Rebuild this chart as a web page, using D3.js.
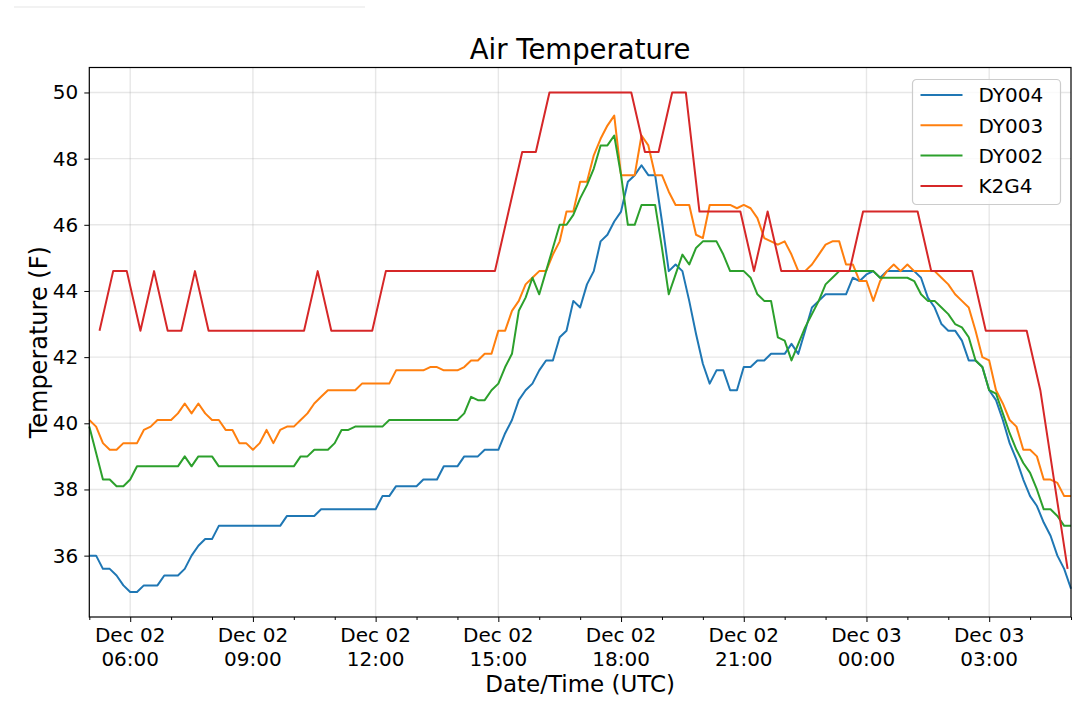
<!DOCTYPE html>
<html>
<head>
<meta charset="utf-8">
<script src="https://cdn.jsdelivr.net/npm/d3@7"></script>
<style>
  body { margin: 0; background: #fff; }
  svg { display: block; font-family: "DejaVu Sans", sans-serif; }
</style>
</head>
<body>
<div class="chart"></div>
<script>
// 10-minute station readings, starting Dec 02 05:00 UTC
var dy004 = [
  36.0, 36.0, 35.6, 35.6, 35.4, 35.1, 34.9, 34.9, 35.1, 35.1,
  35.1, 35.4, 35.4, 35.4, 35.6, 36.0, 36.3, 36.5, 36.5, 36.9,
  36.9, 36.9, 36.9, 36.9, 36.9, 36.9, 36.9, 36.9, 36.9, 37.2,
  37.2, 37.2, 37.2, 37.2, 37.4, 37.4, 37.4, 37.4, 37.4, 37.4,
  37.4, 37.4, 37.4, 37.8, 37.8, 38.1, 38.1, 38.1, 38.1, 38.3,
  38.3, 38.3, 38.7, 38.7, 38.7, 39.0, 39.0, 39.0, 39.2, 39.2,
  39.2, 39.7, 40.1, 40.7, 41.0, 41.2, 41.6, 41.9, 41.9, 42.6,
  42.8, 43.7, 43.5, 44.2, 44.6, 45.5, 45.7, 46.1, 46.4, 47.3,
  47.5, 47.8, 47.5, 47.5, 46.1, 44.6, 44.8, 44.6, 43.7, 42.7,
  41.8, 41.2, 41.6, 41.6, 41.0, 41.0, 41.7, 41.7, 41.9, 41.9,
  42.1, 42.1, 42.1, 42.4, 42.1, 42.8, 43.5, 43.7, 43.9, 43.9,
  43.9, 43.9, 44.4, 44.3, 44.5, 44.6, 44.4, 44.6, 44.6, 44.6,
  44.6, 44.6, 44.4, 43.8, 43.5, 43.0, 42.8, 42.8, 42.5, 41.9,
  41.9, 41.7, 41.0, 40.7, 40.1, 39.4, 38.9, 38.3, 37.8, 37.5,
  37.0, 36.6, 36.0, 35.6, 35.0
];
var dy003 = [
  40.1, 39.9, 39.4, 39.2, 39.2, 39.4, 39.4, 39.4, 39.8, 39.9,
  40.1, 40.1, 40.1, 40.3, 40.6, 40.3, 40.6, 40.3, 40.1, 40.1,
  39.8, 39.8, 39.4, 39.4, 39.2, 39.4, 39.8, 39.4, 39.8, 39.9,
  39.9, 40.1, 40.3, 40.6, 40.8, 41.0, 41.0, 41.0, 41.0, 41.0,
  41.2, 41.2, 41.2, 41.2, 41.2, 41.6, 41.6, 41.6, 41.6, 41.6,
  41.7, 41.7, 41.6, 41.6, 41.6, 41.7, 41.9, 41.9, 42.1, 42.1,
  42.8, 42.8, 43.4, 43.7, 44.2, 44.4, 44.6, 44.6, 45.1, 45.5,
  46.4, 46.4, 47.3, 47.3, 48.1, 48.6, 49.0, 49.3, 47.5, 47.5,
  47.5, 48.7, 48.4, 47.5, 47.5, 47.0, 46.6, 46.6, 46.6, 45.7,
  45.6, 46.6, 46.6, 46.6, 46.6, 46.5, 46.6, 46.5, 46.2, 45.6,
  45.5, 45.4, 45.5, 45.1, 44.6, 44.6, 44.8, 45.1, 45.4, 45.5,
  45.5, 44.8, 44.8, 44.3, 44.3, 43.7, 44.3, 44.6, 44.8, 44.6,
  44.8, 44.6, 44.6, 44.6, 44.6, 44.4, 44.2, 43.9, 43.7, 43.5,
  42.8, 42.0, 41.9, 41.0, 40.6, 40.1, 39.9, 39.2, 39.2, 39.0,
  38.3, 38.3, 38.2, 37.8, 37.8
];
var dy002 = [
  39.9, 39.1, 38.3, 38.3, 38.1, 38.1, 38.3, 38.7, 38.7, 38.7,
  38.7, 38.7, 38.7, 38.7, 39.0, 38.7, 39.0, 39.0, 39.0, 38.7,
  38.7, 38.7, 38.7, 38.7, 38.7, 38.7, 38.7, 38.7, 38.7, 38.7,
  38.7, 39.0, 39.0, 39.2, 39.2, 39.2, 39.4, 39.8, 39.8, 39.9,
  39.9, 39.9, 39.9, 39.9, 40.1, 40.1, 40.1, 40.1, 40.1, 40.1,
  40.1, 40.1, 40.1, 40.1, 40.1, 40.3, 40.8, 40.7, 40.7, 41.0,
  41.2, 41.7, 42.1, 43.4, 43.8, 44.4, 43.9, 44.6, 45.3, 46.0,
  46.0, 46.3, 46.8, 47.2, 47.7, 48.4, 48.4, 48.7, 47.5, 46.0,
  46.0, 46.6, 46.6, 46.6, 45.3, 43.9, 44.5, 45.1, 44.8, 45.3,
  45.5, 45.5, 45.5, 45.1, 44.6, 44.6, 44.6, 44.4, 43.9, 43.7,
  43.7, 42.6, 42.5, 41.9, 42.4, 42.9, 43.3, 43.7, 44.2, 44.4,
  44.6, 44.6, 44.6, 44.6, 44.6, 44.6, 44.4, 44.4, 44.4, 44.4,
  44.4, 44.3, 43.9, 43.7, 43.7, 43.5, 43.3, 43.0, 42.9, 42.6,
  41.9, 41.7, 41.0, 40.9, 40.3, 39.7, 39.2, 38.8, 38.5, 38.0,
  37.4, 37.4, 37.2, 36.9, 36.9
];
// 20-minute airport readings, starting Dec 02 05:15 UTC
var k2g4 = [
  42.8, 44.6, 44.6, 42.8, 44.6, 42.8, 42.8, 44.6, 42.8, 42.8,
  42.8, 42.8, 42.8, 42.8, 42.8, 42.8, 44.6, 42.8, 42.8, 42.8,
  42.8, 44.6, 44.6, 44.6, 44.6, 44.6, 44.6, 44.6, 44.6, 44.6,
  46.4, 48.2, 48.2, 50.0, 50.0, 50.0, 50.0, 50.0, 50.0, 50.0,
  48.2, 48.2, 50.0, 50.0, 46.4, 46.4, 46.4, 46.4, 44.6, 46.4,
  44.6, 44.6, 44.6, 44.6, 44.6, 44.6, 46.4, 46.4, 46.4, 46.4,
  46.4, 44.6, 44.6, 44.6, 44.6, 42.8, 42.8, 42.8, 42.8, 41.0,
  38.3, 35.6
];

var names = ['DY004', 'DY003', 'DY002', 'K2G4'];
var colors = ['#1f77b4', '#ff7f0e', '#2ca02c', '#d62728'];
var yTicks = [36, 38, 40, 42, 44, 46, 48, 50];

var dyStart = Date.UTC(2018, 11, 2, 5, 0);
var k2Start = Date.UTC(2018, 11, 2, 5, 15);
var xStart = new Date(Date.UTC(2018, 11, 2, 5, 0));
var xEnd = new Date(Date.UTC(2018, 11, 3, 5, 0));

function stamp(values, start, stepMin) {
  return values.map(function(v, i) {
    return { t: new Date(start + i * stepMin * 60000), v: v };
  });
}

var series = [
  stamp(dy004, dyStart, 10),
  stamp(dy003, dyStart, 10),
  stamp(dy002, dyStart, 10),
  stamp(k2g4, k2Start, 20)
];

var W = 1080, H = 709;
var margin = { top: 67.5, right: 9, bottom: 92, left: 89.3 };
var width = W - margin.left - margin.right;
var height = H - margin.top - margin.bottom;

var all = d3.merge(series);
var lo = d3.min(all, function(d) { return d.v; });
var hi = d3.max(all, function(d) { return d.v; });
var pad = (hi - lo) * 0.05;

var x = d3.scaleUtc().domain([xStart, xEnd]).range([0, width]);
var y = d3.scaleLinear().domain([lo - pad, hi + pad]).range([height, 0]);

var svg = d3.select('.chart').append('svg')
    .attr('width', W)
    .attr('height', H);

svg.append('line')
    .attr('x1', 14).attr('x2', 365).attr('y1', 7).attr('y2', 7)
    .attr('stroke', '#eeeeee').attr('stroke-width', 1.5);

var g = svg.append('g')
    .attr('transform', 'translate(' + margin.left + ',' + margin.top + ')');

var major = x.ticks(d3.utcHour.every(3));
var minor = x.ticks(d3.utcHour.every(1)).filter(function(d) { return d.getUTCHours() % 3 !== 0; });

// grid
g.append('g').selectAll('line')
    .data(major)
    .enter().append('line')
    .attr('x1', function(d) { return x(d); })
    .attr('x2', function(d) { return x(d); })
    .attr('y1', 0).attr('y2', height)
    .attr('stroke', '#b0b0b0').attr('stroke-opacity', 0.3).attr('stroke-width', 1.4);

g.append('g').selectAll('line')
    .data(yTicks)
    .enter().append('line')
    .attr('x1', 0).attr('x2', width)
    .attr('y1', function(d) { return y(d); })
    .attr('y2', function(d) { return y(d); })
    .attr('stroke', '#b0b0b0').attr('stroke-opacity', 0.3).attr('stroke-width', 1.4);

// series
var line = d3.line()
    .x(function(d) { return x(d.t); })
    .y(function(d) { return y(d.v); });

g.append('g').selectAll('path')
    .data(series)
    .enter().append('path')
    .attr('d', line)
    .attr('fill', 'none')
    .attr('stroke', function(d, i) { return colors[i]; })
    .attr('stroke-width', 2)
    .attr('stroke-linejoin', 'round');

// axes
var yAxis = d3.axisLeft(y).tickValues(yTicks).tickSize(5).tickPadding(6).tickFormat(d3.format('d'));
var xAxis = d3.axisBottom(x).tickValues(major).tickSize(5).tickPadding(6).tickFormat('');
var xMinor = d3.axisBottom(x).tickValues(minor).tickSize(3).tickFormat('');

var ya = g.append('g').call(yAxis);
ya.select('.domain').remove();
ya.selectAll('text').attr('font-size', 20).attr('fill', '#000').attr('font-family', 'DejaVu Sans');
ya.selectAll('line').attr('stroke', '#000');

var xa = g.append('g').attr('transform', 'translate(0,' + height + ')').call(xAxis);
xa.select('.domain').remove();
xa.selectAll('line').attr('stroke', '#000');

var xm = g.append('g').attr('transform', 'translate(0,' + height + ')').call(xMinor);
xm.select('.domain').remove();
xm.selectAll('line').attr('stroke', '#000');

var fmtDay = d3.utcFormat('%b %d');
var fmtTime = d3.utcFormat('%H:%M');
var lab = g.append('g').selectAll('text')
    .data(major)
    .enter().append('text')
    .attr('text-anchor', 'middle')
    .attr('font-size', 20)
    .attr('fill', '#000');
lab.append('tspan')
    .attr('x', function(d) { return x(d); })
    .attr('y', height + 25)
    .text(fmtDay);
lab.append('tspan')
    .attr('x', function(d) { return x(d); })
    .attr('y', height + 48.5)
    .text(fmtTime);

g.append('rect')
    .attr('width', width).attr('height', height)
    .attr('fill', 'none').attr('stroke', '#000').attr('stroke-width', 1.2);

// labels
svg.append('text')
    .attr('x', margin.left + width / 2).attr('y', 59.3)
    .attr('text-anchor', 'middle')
    .attr('font-size', 27.5)
    .text('Air Temperature');

svg.append('text')
    .attr('x', margin.left + width / 2).attr('y', 692)
    .attr('text-anchor', 'middle')
    .attr('font-size', 23)
    .text('Date/Time (UTC)');

svg.append('text')
    .attr('transform', 'translate(47,' + (margin.top + height / 2) + ') rotate(-90)')
    .attr('text-anchor', 'middle')
    .attr('font-size', 24)
    .text('Temperature (F)');

// legend
var legend = g.append('g')
    .attr('transform', 'translate(' + (width - 158.5) + ',12)');

legend.append('rect')
    .attr('width', 148).attr('height', 125).attr('rx', 4)
    .attr('fill', '#fff').attr('fill-opacity', 0.8)
    .attr('stroke', '#cccccc').attr('stroke-width', 1.2);

var item = legend.selectAll('.item')
    .data(names)
    .enter().append('g')
    .attr('class', 'item')
    .attr('transform', function(d, i) { return 'translate(0,' + (15.5 + i * 30.3) + ')'; });

item.append('line')
    .attr('x1', 8).attr('x2', 50)
    .attr('stroke', function(d, i) { return colors[i]; })
    .attr('stroke-width', 2);

item.append('text')
    .attr('x', 66).attr('y', 7.3)
    .attr('font-size', 20)
    .text(function(d) { return d; });
</script>
</body>
</html>
